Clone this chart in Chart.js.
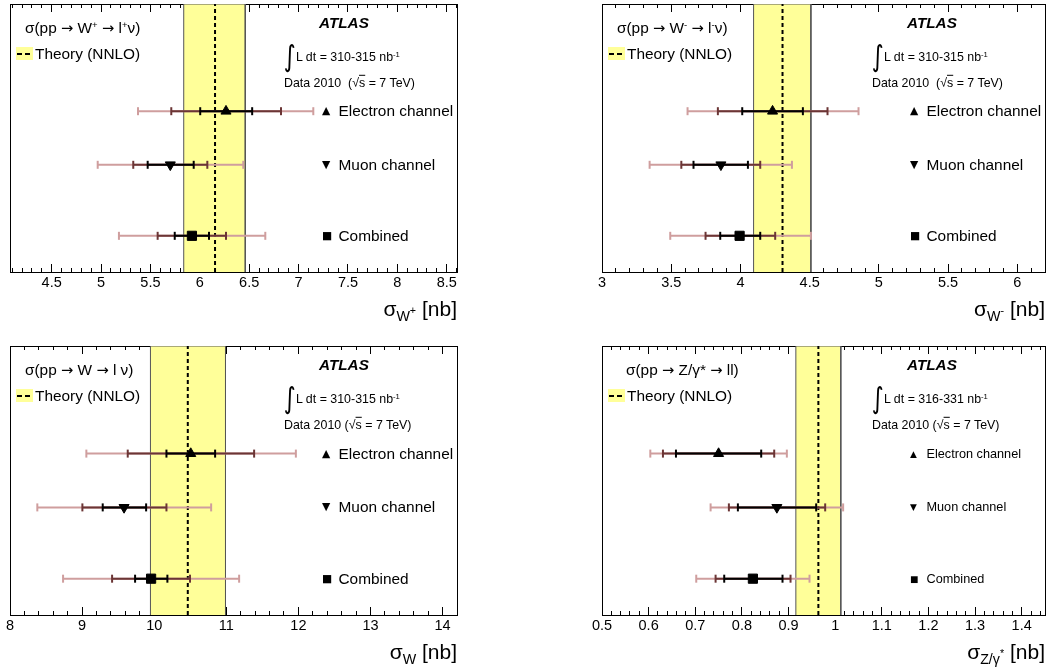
<!DOCTYPE html>
<html>
<head>
<meta charset="utf-8">
<script src="https://cdn.jsdelivr.net/npm/chart.js@4.4.0/dist/chart.umd.min.js"></script>
<style>
body { margin: 0; background: #fff; width: 1063px; height: 671px; overflow: hidden; font-family: "Liberation Sans", Arial, sans-serif; }
.panel { position: absolute; }
.panel canvas { position: absolute; left: 0; top: 0; }
.t { position: absolute; white-space: nowrap; color: #000; line-height: 1; transform: translateY(-50%); }
.t sup { font-size: 0.62em; vertical-align: 0.55em; line-height: 0; }
.ax sub { font-size: 0.68em; vertical-align: -0.38em; line-height: 0; }
.ax sub sup { font-size: 0.75em; vertical-align: 0.6em; }
.ov { text-decoration: overline; }
.ar { font-family: "DejaVu Sans", sans-serif; font-size: 0.95em; }
</style>
</head>
<body>
<script>
// rows, bottom to top order as in the plot legend
var rowNames = ['Electron channel', 'Muon channel', 'Combined'];
var rowY = [6.0, 4.0, 1.35];

// sigma(W+)
var wpCentral = [6.265, 5.701, 5.92];
var wpStat = [[6.004, 6.53], [5.472, 5.938], [5.746, 6.093]];
var wpSyst = [[5.711, 6.822], [5.326, 6.076], [5.573, 6.265]];
var wpTotal = [[5.374, 7.149], [4.966, 6.44], [5.181, 6.663]];
var wpTheory = [5.837, 6.154, 6.46];
var wpTicks = [4.5, 5, 5.5, 6, 6.5, 7, 7.5, 8, 8.5];
var wpTickLabels = ['4.5', '5', '5.5', '6', '6.5', '7', '7.5', '8', '8.5'];

// sigma(W-)
var wmCentral = [4.232, 3.859, 3.994];
var wmStat = [[4.013, 4.451], [3.661, 4.054], [3.854, 4.143]];
var wmSyst = [[3.837, 4.629], [3.573, 4.143], [3.748, 4.251]];
var wmTotal = [[3.618, 4.853], [3.344, 4.372], [3.493, 4.509]];
var wmTheory = [4.095, 4.304, 4.509];
var wmTicks = [3, 3.5, 4, 4.5, 5, 5.5, 6];
var wmTickLabels = ['3', '3.5', '4', '4.5', '5', '5.5', '6'];

// sigma(W)
var wCentral = [10.507, 9.582, 9.957];
var wStat = [[10.17, 10.845], [9.286, 9.888], [9.735, 10.183]];
var wSyst = [[9.633, 11.386], [9.004, 10.17], [9.416, 10.497]];
var wTotal = [[9.059, 11.965], [8.379, 10.79], [8.736, 11.178]];
var wTheory = [9.948, 10.466, 10.989];
var wTicks = [8, 9, 10, 11, 12, 13, 14];
var wTickLabels = ['8', '9', '10', '11', '12', '13', '14'];

// sigma(Z/gamma*)
var zCentral = [0.75, 0.875, 0.8236];
var zStat = [[0.6586, 0.8414], [0.7914, 0.9593], [0.7621, 0.8871]];
var zSyst = [[0.6307, 0.8693], [0.7721, 0.9786], [0.7436, 0.9043]];
var zTotal = [[0.6036, 0.8964], [0.7329, 1.0171], [0.7021, 0.945]];
var zTheory = [0.9157, 0.964, 1.0121];
var zTicks = [0.5, 0.6, 0.7, 0.8, 0.9, 1, 1.1, 1.2, 1.3, 1.4];
var zTickLabels = ['0.5', '0.6', '0.7', '0.8', '0.9', '1', '1.1', '1.2', '1.3', '1.4'];

var FONT = '"Liberation Sans", Arial, sans-serif';
var AR = '<span class="ar">→</span>';

var panels = [
    { left: 0, top: 0, w: 531, h: 335, frame: { l: 10, t: 4, r: 457, b: 272 },
      min: 4.078, max: 8.604, minor: 0.1,
      central: wpCentral, stat: wpStat, syst: wpSyst, total: wpTotal, theory: wpTheory,
      ticks: wpTicks, tickLabels: wpTickLabels,
      title: 'σ(pp ' + AR + ' W<sup>+</sup> ' + AR + ' l<sup>+</sup>ν)', titleX: 15,
      lumi: '310-315', data: 'Data 2010&nbsp;&nbsp;(√<span class="ov">s</span> = 7 TeV)',
      axis: 'σ<sub>W<sup>+</sup></sub> [nb]', legendSize: 15.4 },
    { left: 531, top: 0, w: 532, h: 335, frame: { l: 71, t: 4, r: 514, b: 272 },
      min: 3, max: 6.2, minor: 0.1,
      central: wmCentral, stat: wmStat, syst: wmSyst, total: wmTotal, theory: wmTheory,
      ticks: wmTicks, tickLabels: wmTickLabels,
      title: 'σ(pp ' + AR + ' W<sup>-</sup> ' + AR + ' l<sup>-</sup>ν)', titleX: 15,
      lumi: '310-315', data: 'Data 2010&nbsp;&nbsp;(√<span class="ov">s</span> = 7 TeV)',
      axis: 'σ<sub>W<sup>-</sup></sub> [nb]', legendSize: 15.4 },
    { left: 0, top: 335, w: 531, h: 336, frame: { l: 10, t: 11, r: 457, b: 280 },
      min: 8, max: 14.2, minor: 0.2,
      central: wCentral, stat: wStat, syst: wSyst, total: wTotal, theory: wTheory,
      ticks: wTicks, tickLabels: wTickLabels,
      title: 'σ(pp ' + AR + ' W ' + AR + ' l ν)', titleX: 15,
      lumi: '310-315', data: 'Data 2010 (√<span class="ov">s</span> = 7 TeV)',
      axis: 'σ<sub>W</sub> [nb]', legendSize: 15.4 },
    { left: 531, top: 335, w: 532, h: 336, frame: { l: 71, t: 11, r: 514, b: 280 },
      min: 0.5, max: 1.45, minor: 0.02,
      central: zCentral, stat: zStat, syst: zSyst, total: zTotal, theory: zTheory,
      ticks: zTicks, tickLabels: zTickLabels,
      title: 'σ(pp ' + AR + ' Z/γ* ' + AR + ' ll)', titleX: 24,
      lumi: '316-331', data: 'Data 2010 (√<span class="ov">s</span> = 7 TeV)',
      axis: 'σ<sub>Z/γ<sup>*</sup></sub> [nb]', legendSize: 12.7 }
];

function addText(div, html, x, y, css) {
    var el = document.createElement('div');
    el.className = 't';
    el.innerHTML = html;
    el.style.left = x + 'px';
    el.style.top = y + 'px';
    for (var k in css) el.style[k] = css[k];
    div.appendChild(el);
    return el;
}

function fixHeight(h) {
    return function (s) { s.height = h; s.paddingLeft = 0; s.paddingRight = 0; };
}
function fixWidth(s) { s.width = 0; s.paddingTop = 0; s.paddingBottom = 0; }

function makePanel(p) {
    var div = document.createElement('div');
    div.className = 'panel';
    div.style.left = p.left + 'px';
    div.style.top = p.top + 'px';
    div.style.width = p.w + 'px';
    div.style.height = p.h + 'px';
    var cv = document.createElement('canvas');
    cv.width = p.w;
    cv.height = p.h;
    div.appendChild(cv);
    document.body.appendChild(div);

    var ds = [];
    // theory band
    ds.push({
        data: [{ x: p.theory[0], y: 0 }, { x: p.theory[0], y: 10 }, { x: p.theory[2], y: 10 }, { x: p.theory[2], y: 0 }],
        borderColor: '#555', borderWidth: 1, backgroundColor: '#ffff99', fill: 'origin',
        pointRadius: 0, order: 10
    });
    // theory central value
    ds.push({
        data: [{ x: p.theory[1], y: 0 }, { x: p.theory[1], y: 10 }],
        borderColor: '#000', borderWidth: 2, borderDash: [4, 3], fill: false, pointRadius: 0, order: 9
    });
    // error bars: total, stat+syst, stat
    var levels = [[p.total, '#cf9e9e', 8], [p.syst, '#6b3535', 7], [p.stat, '#000000', 6]];
    levels.forEach(function (lv) {
        lv[0].forEach(function (r, i) {
            ds.push({
                data: [{ x: r[0], y: rowY[i] }, { x: r[1], y: rowY[i] }],
                borderColor: lv[1], borderWidth: 2, fill: false,
                pointStyle: 'line', pointRotation: 90, pointRadius: 4,
                pointBorderColor: lv[1], pointBorderWidth: 2, order: lv[2]
            });
        });
    });
    // central values
    ds.push({
        data: p.central.map(function (c, i) { return { x: c, y: rowY[i] }; }),
        showLine: false,
        pointStyle: ['triangle', 'triangle', 'rect'],
        pointRotation: [0, 180, 0],
        pointRadius: [5.8, 5.8, 6.5],
        pointBackgroundColor: '#000', pointBorderColor: '#000', pointBorderWidth: 1,
        order: 0
    });

    var majorTicks = function (s) { s.ticks = p.ticks.map(function (v) { return { value: v }; }); };
    var bottomH = p.h - p.frame.b;

    var chart = new Chart(cv.getContext('2d'), {
        type: 'line',
        data: { datasets: ds },
        options: {
            responsive: false,
            animation: false,
            events: [],
            layout: { autoPadding: false, padding: { left: p.frame.l, top: p.frame.t, right: p.w - p.frame.r, bottom: 0 } },
            plugins: { legend: { display: false }, tooltip: { enabled: false } },
            scales: {
                x: {
                    type: 'linear', position: 'bottom', min: p.min, max: p.max, weight: 0,
                    ticks: { stepSize: p.minor, display: false, includeBounds: false },
                    grid: { drawOnChartArea: false, tickLength: -4, tickColor: '#000', tickWidth: 1 },
                    border: { color: '#000', width: 1 },
                    afterFit: fixHeight(0)
                },
                xMaj: {
                    type: 'linear', position: 'bottom', min: p.min, max: p.max, weight: 1,
                    afterBuildTicks: majorTicks,
                    ticks: {
                        autoSkip: false, maxRotation: 0, padding: 10.5, color: '#000',
                        font: { family: FONT, size: 14.5 },
                        callback: function (v, i) { return p.tickLabels[i]; }
                    },
                    grid: { drawOnChartArea: false, tickLength: -8, tickColor: '#000', tickWidth: 1 },
                    border: { color: '#000', width: 1 },
                    afterFit: fixHeight(bottomH)
                },
                xt: {
                    type: 'linear', position: 'top', min: p.min, max: p.max, weight: 0,
                    ticks: { stepSize: p.minor, display: false, includeBounds: false },
                    grid: { drawOnChartArea: false, tickLength: -4, tickColor: '#000', tickWidth: 1 },
                    border: { color: '#000', width: 1 },
                    afterFit: fixHeight(0)
                },
                xtMaj: {
                    type: 'linear', position: 'top', min: p.min, max: p.max, weight: 1,
                    afterBuildTicks: majorTicks,
                    ticks: { display: false },
                    grid: { drawOnChartArea: false, tickLength: -8, tickColor: '#000', tickWidth: 1 },
                    border: { color: '#000', width: 1 },
                    afterFit: fixHeight(0)
                },
                y: {
                    type: 'linear', position: 'left', min: 0, max: 10,
                    ticks: { display: false },
                    grid: { drawOnChartArea: false, drawTicks: false },
                    border: { color: '#000', width: 1 },
                    afterFit: fixWidth
                },
                y2: {
                    type: 'linear', position: 'right', min: 0, max: 10,
                    ticks: { display: false },
                    grid: { drawOnChartArea: false, drawTicks: false },
                    border: { color: '#000', width: 1 },
                    afterFit: fixWidth
                }
            }
        }
    });

    // text overlays, placed relative to the frame
    var f = p.frame;
    addText(div, p.title, f.l + p.titleX, f.t + 24, { fontSize: '15.4px' });
    var box = document.createElement('div');
    box.style.cssText = 'position:absolute;width:17px;height:13px;background:#ffff99;left:' + (f.l + 6) + 'px;top:' + (f.t + 43) + 'px;';
    var dash = document.createElement('div');
    dash.style.cssText = 'position:absolute;left:1px;right:0;top:5.5px;height:2px;background:repeating-linear-gradient(to right,#000 0 5px,transparent 5px 8px);';
    box.appendChild(dash);
    div.appendChild(box);
    addText(div, 'Theory (NNLO)', f.l + 25, f.t + 49.5, { fontSize: '15.4px' });

    addText(div, 'ATLAS', f.r - 138, f.t + 18.5, { fontSize: '15.3px', fontWeight: 'bold', fontStyle: 'italic' });
    addText(div, '∫', f.r - 175, f.t + 52, { fontSize: '29px', fontFamily: '"DejaVu Sans", sans-serif', transform: 'translateY(-50%) scaleX(0.8)' });
    addText(div, 'L dt = ' + p.lumi + ' nb<sup>-1</sup>', f.r - 161, f.t + 52.5, { fontSize: '12.4px' });
    addText(div, p.data, f.r - 173, f.t + 78.5, { fontSize: '12.4px' });

    var sym = ['▲', '▼', '■'];
    var ys = chart.scales.y;
    rowNames.forEach(function (name, i) {
        var py = ys.getPixelForValue(rowY[i]);
        addText(div, sym[i], f.r - 135, py, { fontSize: (p.legendSize * 0.7) + 'px', fontFamily: '"DejaVu Sans", sans-serif' });
        addText(div, name, f.r - 118.5, py, { fontSize: p.legendSize + 'px' });
    });

    var ax = addText(div, p.axis, f.r, f.b + 36, { fontSize: '21px' });
    ax.classList.add('ax');
    ax.style.transform = 'translate(-100%, -50%)';
}

panels.forEach(makePanel);
</script>
</body>
</html>
